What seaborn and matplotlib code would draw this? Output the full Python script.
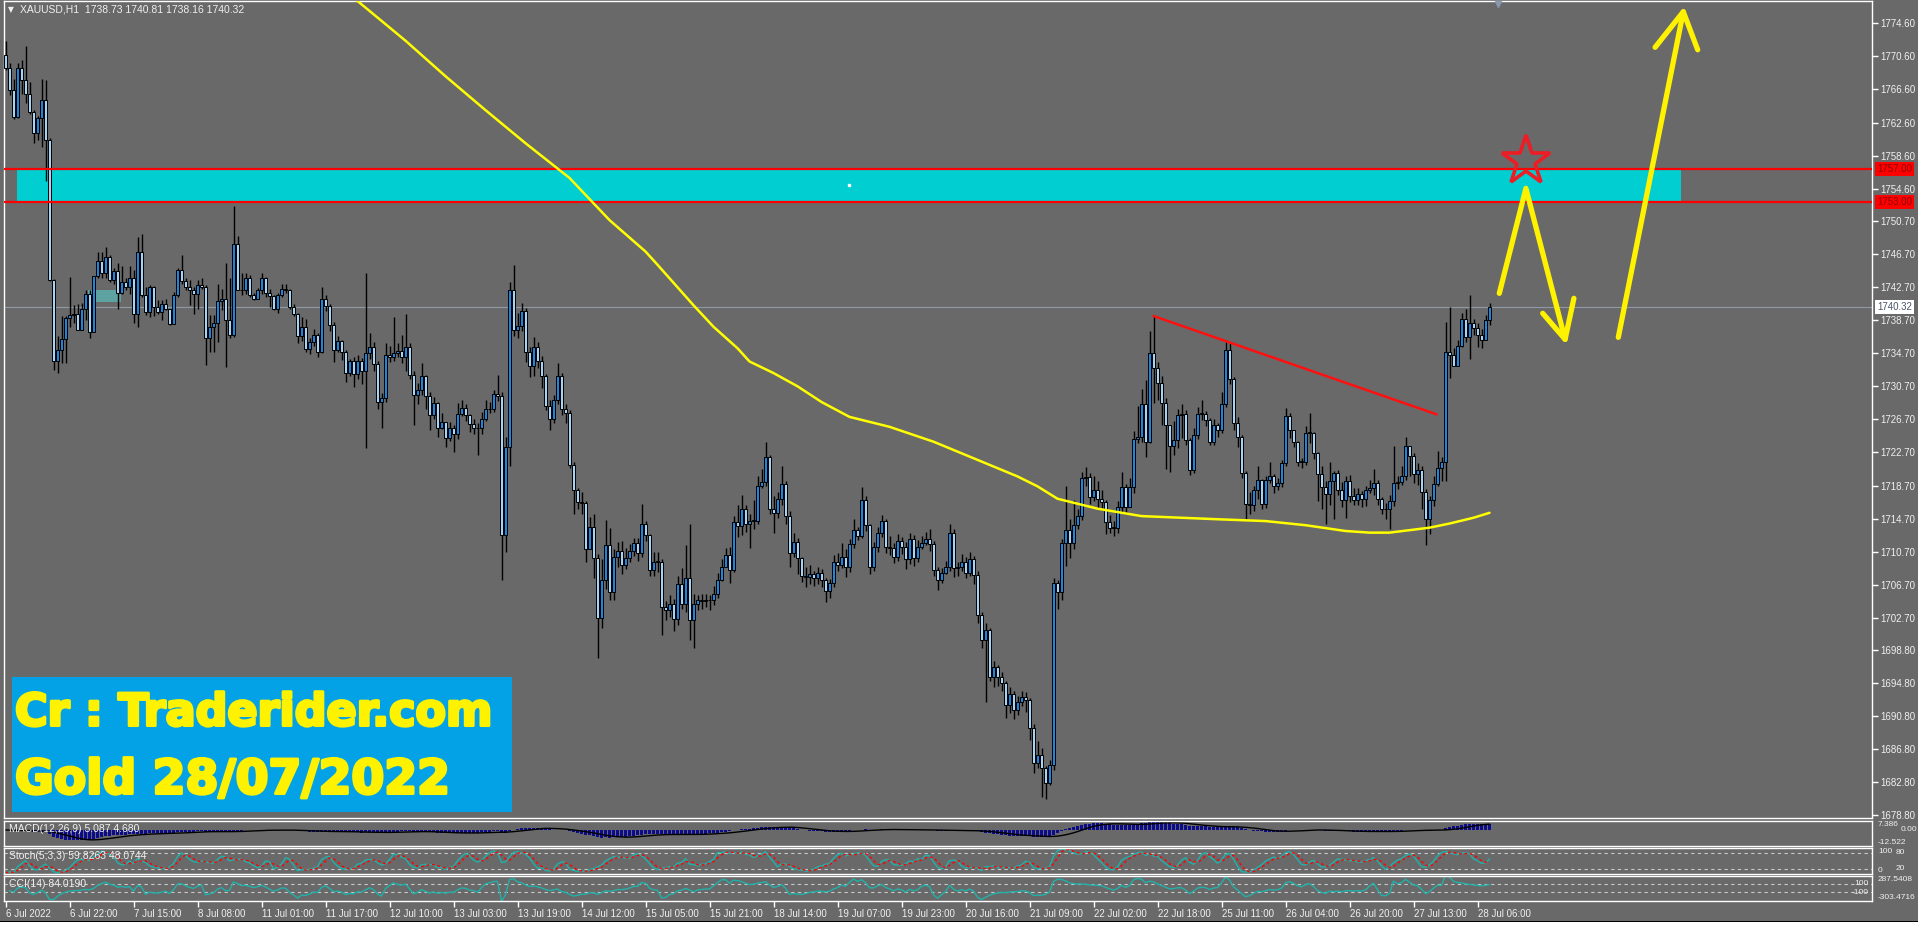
import numpy as np
import pandas as pd
import seaborn as sns
import matplotlib.pyplot as plt
import matplotlib.transforms as mtrans
import matplotlib.patheffects as pe
from matplotlib.patches import Rectangle

W, H = 1918, 925
BG = '#696969'

# XAUUSD H1, 6 Jul 2022 06:00 -> 28 Jul 2022 09:00 (23 bars per day)
first_open = 1770.8
closes = [
    # 6 Jul
    1769.2, 1766.5, 1763.3, 1769.2, 1767.8, 1766.1, 1763.9, 1761.3, 1763.2, 1765.3, 1760.5, 1743.6,
    1733.7, 1735.1, 1736.4, 1738.9, 1739.3, 1739.4,
    # 7 Jul
    1737.5, 1740.0, 1741.9, 1737.3, 1744.0, 1745.8, 1744.4, 1746.3, 1743.5, 1744.6, 1742.0, 1743.3,
    1742.7, 1743.8, 1739.5, 1747.0, 1741.7, 1739.7, 1742.7, 1740.3, 1739.7, 1740.7, 1740.1,
    # 8 Jul
    1738.2, 1741.7, 1744.8, 1743.4, 1742.7, 1742.4, 1741.9, 1743.0, 1742.7, 1736.5, 1737.9, 1738.4,
    1741.0, 1741.2, 1738.7, 1736.9, 1747.9, 1742.4, 1742.3, 1743.8, 1741.7, 1741.3, 1742.4,
    # 11 Jul
    1743.8, 1742.0, 1741.6, 1740.0, 1741.7, 1742.5, 1742.4, 1740.3, 1739.4, 1736.8, 1737.9, 1735.2,
    1736.1, 1736.9, 1734.9, 1741.2, 1740.4, 1738.1, 1735.1, 1736.2, 1734.9, 1732.3, 1733.7,
    # 12 Jul
    1732.2, 1733.7, 1732.6, 1734.7, 1735.4, 1733.4, 1728.8, 1729.3, 1734.5, 1734.3, 1734.7, 1735.0,
    1734.3, 1735.5, 1732.1, 1729.6, 1730.2, 1731.9, 1729.5, 1727.2, 1728.7, 1725.7, 1726.4,
    # 13 Jul
    1724.4, 1725.7, 1724.9, 1727.4, 1728.1, 1727.2, 1726.1, 1725.7, 1725.6, 1726.8, 1727.9, 1728.0,
    1729.8, 1729.5, 1712.7, 1723.3, 1742.3, 1737.5, 1738.0, 1739.8, 1734.8, 1733.1, 1735.4,
    # 14 Jul
    1733.7, 1731.9, 1728.3, 1726.8, 1729.1, 1731.9, 1728.0, 1727.5, 1721.2, 1718.2, 1716.7, 1716.6,
    1711.0, 1713.7, 1709.9, 1702.7, 1707.3, 1711.5, 1705.8, 1710.0, 1710.8, 1709.1, 1709.9,
    # 15 Jul
    1710.8, 1711.8, 1710.5, 1714.0, 1712.7, 1708.5, 1709.5, 1709.5, 1704.0, 1703.6, 1704.4, 1702.6,
    1706.8, 1704.4, 1707.5, 1702.4, 1704.4, 1704.8, 1704.7, 1704.9, 1704.8, 1705.6, 1707.3,
    # 18 Jul
    1708.9, 1710.3, 1708.5, 1714.3, 1713.8, 1715.9, 1714.1, 1714.4, 1714.4, 1718.6, 1719.1, 1722.1,
    1715.9, 1715.4, 1717.1, 1718.9, 1715.0, 1710.5, 1711.9, 1709.9, 1707.7, 1707.6, 1708.0,
    # 19 Jul
    1707.5, 1708.1, 1707.3, 1706.0, 1706.9, 1709.5, 1709.1, 1710.0, 1708.9, 1711.6, 1713.3, 1712.6,
    1716.9, 1713.9, 1708.9, 1711.3, 1712.9, 1714.4, 1711.3, 1711.2, 1710.1, 1712.0, 1711.3,
    # 20 Jul
    1709.8, 1712.2, 1709.9, 1711.3, 1711.8, 1712.2, 1711.6, 1708.5, 1707.3, 1708.1, 1708.9, 1712.9,
    1708.7, 1708.9, 1709.5, 1708.1, 1709.8, 1707.9, 1703.0, 1700.0, 1701.2, 1695.6, 1696.7,
    # 21 Jul
    1695.6, 1694.8, 1692.1, 1693.5, 1691.5, 1692.5, 1693.1, 1692.7, 1689.4, 1685.1, 1686.1, 1684.5,
    1682.7, 1684.9, 1706.9, 1705.8, 1711.7, 1713.3, 1711.7, 1713.9, 1715.0, 1719.6, 1719.7,
    # 22 Jul
    1717.3, 1718.2, 1717.1, 1716.7, 1714.3, 1713.6, 1713.6, 1716.1, 1718.5, 1716.1, 1718.5, 1724.3,
    1724.6, 1728.5, 1724.0, 1734.7, 1732.9, 1731.1, 1728.7, 1726.0, 1723.5, 1724.2, 1727.2,
    # 25 Jul
    1727.4, 1724.2, 1720.6, 1724.8, 1727.4, 1727.4, 1726.6, 1724.0, 1726.0, 1725.4, 1728.5, 1735.1,
    1731.6, 1726.2, 1724.6, 1720.2, 1716.5, 1716.3, 1718.2, 1719.4, 1716.5, 1719.4, 1719.8,
    # 26 Jul
    1718.6, 1719.0, 1721.4, 1727.1, 1725.4, 1724.0, 1721.6, 1721.6, 1725.1, 1725.1, 1722.6, 1720.1,
    1718.5, 1717.7, 1719.3, 1720.2, 1718.2, 1717.0, 1719.2, 1717.4, 1717.0, 1717.7, 1717.1,
    # 27 Jul
    1718.2, 1718.4, 1719.0, 1717.1, 1715.9, 1715.8, 1716.8, 1719.0, 1719.1, 1719.8, 1723.5, 1722.3,
    1720.1, 1720.6, 1717.9, 1714.7, 1717.0, 1718.9, 1720.8, 1721.6, 1734.9, 1734.5, 1733.1,
    # 28 Jul
    1735.6, 1738.8, 1736.7, 1738.3, 1737.8, 1736.9, 1736.3, 1738.73, 1740.32,
]
highs = [
    1772.5, 1769.8, 1767.9, 1769.8, 1770.2, 1771.9, 1767.5, 1764.1, 1763.4, 1767.9, 1767.8, 1760.7,
    1743.7, 1736.8, 1739.2, 1739.2, 1743.9, 1740.5,
    1740.7, 1740.8, 1742.3, 1742.3, 1744.0, 1747.0, 1747.0, 1747.6, 1746.6, 1745.0, 1745.6, 1745.2,
    1743.8, 1745.2, 1744.8, 1748.8, 1749.1, 1742.7, 1742.9, 1742.8, 1741.1, 1741.1, 1741.3,
    1739.9, 1742.1, 1745.0, 1746.6, 1743.8, 1743.6, 1742.7, 1743.6, 1743.8, 1742.9, 1739.3, 1739.3,
    1743.1, 1742.5, 1745.6, 1743.8, 1752.5, 1748.9, 1744.4, 1744.4, 1744.2, 1742.0, 1742.6,
    1744.4, 1743.9, 1742.5, 1741.8, 1742.0, 1743.1, 1743.1, 1742.5, 1740.6, 1739.6, 1739.1, 1738.8,
    1736.6, 1737.6, 1737.1, 1742.7, 1741.8, 1740.6, 1738.5, 1736.8, 1736.3, 1735.1, 1734.0,
    1734.2, 1734.5, 1734.1, 1744.4, 1737.1, 1736.1, 1733.8, 1729.9, 1735.9, 1735.6, 1739.1, 1735.9,
    1736.9, 1739.4, 1735.9, 1732.6, 1731.1, 1733.5, 1732.1, 1730.0, 1729.4, 1728.8, 1727.5,
    1726.3, 1726.4, 1726.0, 1728.7, 1729.0, 1728.5, 1727.4, 1726.7, 1726.2, 1727.6, 1729.0, 1728.8,
    1730.2, 1732.1, 1730.0, 1724.6, 1743.3, 1745.4, 1739.6, 1740.8, 1740.2, 1735.5, 1736.7,
    1736.1, 1734.4, 1732.2, 1729.0, 1729.6, 1733.5, 1732.3, 1728.6, 1727.8, 1721.6, 1718.4, 1717.9,
    1716.8, 1714.9, 1715.2, 1710.4, 1709.8, 1714.5, 1713.6, 1711.0, 1711.9, 1712.0, 1711.2,
    1711.6, 1712.4, 1712.3, 1716.5, 1714.4, 1712.8, 1710.6, 1710.7, 1709.8, 1704.7, 1705.4, 1705.0,
    1707.7, 1708.7, 1711.5, 1714.1, 1705.6, 1705.5, 1705.6, 1705.6, 1705.5, 1706.5, 1708.1,
    1709.8, 1711.1, 1711.3, 1715.0, 1716.3, 1717.6, 1716.4, 1715.3, 1717.0, 1719.8, 1720.7, 1724.0,
    1722.4, 1717.4, 1717.9, 1721.1, 1719.3, 1715.6, 1713.0, 1712.3, 1710.0, 1708.8, 1709.1,
    1708.4, 1708.9, 1708.6, 1707.5, 1707.4, 1710.3, 1710.5, 1711.8, 1711.0, 1712.2, 1714.6, 1713.7,
    1718.5, 1717.4, 1714.0, 1711.9, 1713.7, 1715.1, 1714.6, 1712.6, 1711.8, 1712.8, 1712.5,
    1711.9, 1713.0, 1712.7, 1712.1, 1712.6, 1713.1, 1713.5, 1712.0, 1708.9, 1708.7, 1709.6, 1714.0,
    1713.5, 1709.5, 1710.4, 1710.0, 1710.6, 1710.2, 1708.3, 1703.4, 1702.1, 1701.5, 1697.5,
    1697.0, 1696.2, 1695.0, 1694.3, 1693.9, 1693.2, 1693.8, 1693.7, 1693.0, 1689.8, 1687.8, 1687.0,
    1684.8, 1685.5, 1707.5, 1707.3, 1712.2, 1718.6, 1714.6, 1716.9, 1715.8, 1720.3, 1720.9,
    1720.2, 1719.9, 1719.2, 1718.2, 1717.0, 1715.1, 1714.4, 1716.8, 1720.3, 1718.9, 1719.6, 1725.3,
    1728.3, 1730.4, 1731.5, 1737.4, 1739.2, 1733.6, 1732.0, 1729.3, 1724.6, 1726.5, 1727.9,
    1728.5, 1727.8, 1724.5, 1725.6, 1728.2, 1729.0, 1727.7, 1726.9, 1726.8, 1726.2, 1730.0, 1736.1,
    1735.9, 1731.8, 1727.0, 1724.8, 1720.5, 1717.9, 1718.7, 1721.0, 1719.5, 1719.9, 1721.5,
    1720.1, 1719.6, 1721.8, 1728.1, 1727.5, 1725.4, 1724.1, 1722.0, 1725.9, 1727.5, 1725.2, 1722.8,
    1721.0, 1719.3, 1721.6, 1720.5, 1720.6, 1719.1, 1719.9, 1720.0, 1718.4, 1718.4, 1718.0,
    1718.7, 1719.4, 1720.7, 1719.4, 1717.3, 1716.6, 1717.6, 1723.5, 1719.8, 1721.0, 1724.6, 1723.2,
    1722.6, 1721.4, 1721.1, 1718.3, 1717.4, 1719.9, 1722.9, 1722.1, 1738.5, 1740.3, 1735.3,
    1736.3, 1739.6, 1740.0, 1741.8, 1738.8, 1738.3, 1737.6, 1739.3, 1740.81,
]
lows = [
    1769.0, 1765.9, 1763.0, 1763.1, 1766.1, 1765.0, 1763.6, 1760.1, 1760.5, 1759.6, 1755.5, 1743.4,
    1732.7, 1732.3, 1733.5, 1733.5, 1737.9, 1738.3,
    1737.5, 1739.1, 1738.7, 1736.5, 1737.3, 1743.8, 1743.8, 1743.8, 1743.3, 1743.1, 1740.0, 1741.9,
    1742.3, 1741.9, 1738.3, 1737.9, 1741.5, 1739.3, 1739.1, 1739.2, 1739.4, 1738.7, 1739.9,
    1738.1, 1739.5, 1741.5, 1743.1, 1742.3, 1740.5, 1739.5, 1740.1, 1742.5, 1733.3, 1734.9, 1734.8,
    1736.1, 1739.9, 1733.0, 1736.5, 1736.7, 1742.3, 1741.7, 1741.9, 1741.5, 1741.1, 1741.2,
    1741.9, 1741.5, 1740.3, 1739.9, 1739.6, 1741.5, 1742.0, 1740.1, 1739.2, 1735.9, 1736.2, 1734.9,
    1734.6, 1735.6, 1734.2, 1734.7, 1739.8, 1737.4, 1733.6, 1734.8, 1733.9, 1731.2, 1731.9,
    1730.6, 1731.6, 1731.0, 1723.2, 1734.0, 1732.6, 1727.9, 1725.6, 1728.8, 1733.6, 1733.8, 1734.2,
    1733.5, 1732.5, 1731.6, 1726.0, 1728.5, 1729.7, 1728.0, 1725.4, 1726.7, 1724.6, 1725.5,
    1723.4, 1724.1, 1722.8, 1724.3, 1727.1, 1726.5, 1725.2, 1724.9, 1722.4, 1724.9, 1726.5, 1727.5,
    1727.6, 1728.9, 1707.3, 1710.7, 1721.0, 1736.8, 1736.5, 1737.4, 1733.6, 1731.8, 1732.0,
    1732.9, 1730.5, 1727.8, 1725.4, 1726.2, 1728.6, 1727.2, 1726.3, 1720.8, 1715.2, 1715.9, 1715.2,
    1709.4, 1711.7, 1707.5, 1697.8, 1701.5, 1706.2, 1704.9, 1704.8, 1708.9, 1708.0, 1708.6,
    1709.4, 1710.2, 1709.6, 1710.0, 1712.0, 1707.8, 1707.7, 1708.2, 1700.6, 1702.4, 1702.8, 1701.1,
    1701.8, 1703.8, 1703.4, 1700.0, 1699.1, 1703.6, 1703.8, 1704.0, 1703.7, 1704.2, 1705.1,
    1707.1, 1709.3, 1706.9, 1708.2, 1712.5, 1712.7, 1713.1, 1711.2, 1713.5, 1714.1, 1718.4, 1718.7,
    1715.2, 1713.0, 1714.8, 1716.3, 1714.1, 1708.9, 1710.1, 1708.0, 1707.0, 1706.4, 1706.8,
    1706.6, 1706.8, 1706.4, 1704.6, 1705.1, 1706.4, 1708.3, 1708.7, 1707.6, 1708.2, 1711.1, 1712.1,
    1712.3, 1713.2, 1708.0, 1708.3, 1710.6, 1712.5, 1710.5, 1710.3, 1709.3, 1709.6, 1710.4,
    1708.6, 1709.2, 1709.0, 1709.4, 1711.0, 1711.5, 1710.8, 1707.7, 1706.1, 1706.9, 1708.0, 1708.3,
    1707.6, 1707.8, 1708.4, 1707.5, 1707.7, 1706.8, 1702.1, 1699.0, 1692.5, 1695.0, 1694.3,
    1694.5, 1693.8, 1690.6, 1691.2, 1690.5, 1691.0, 1692.0, 1691.3, 1687.9, 1683.9, 1684.5, 1681.0,
    1680.8, 1682.5, 1684.3, 1703.8, 1704.8, 1709.0, 1709.9, 1711.0, 1713.4, 1714.5, 1718.6,
    1716.5, 1716.8, 1716.0, 1715.7, 1712.8, 1713.0, 1712.6, 1713.0, 1715.5, 1715.2, 1716.9, 1717.8,
    1723.8, 1724.0, 1722.2, 1723.9, 1728.7, 1729.0, 1726.0, 1720.7, 1720.3, 1722.4, 1723.2,
    1724.5, 1723.6, 1720.0, 1720.2, 1724.3, 1726.6, 1725.9, 1723.6, 1723.6, 1724.6, 1725.1, 1728.2,
    1731.0, 1725.4, 1723.3, 1719.6, 1714.6, 1715.3, 1715.6, 1717.1, 1715.8, 1716.0, 1719.0,
    1717.8, 1718.2, 1718.5, 1721.0, 1724.5, 1723.3, 1721.0, 1720.8, 1721.2, 1723.9, 1721.9, 1716.8,
    1715.9, 1714.0, 1716.4, 1714.6, 1717.5, 1716.1, 1714.8, 1716.7, 1716.3, 1716.4, 1716.1,
    1716.2, 1717.8, 1717.5, 1716.3, 1715.2, 1714.7, 1713.5, 1716.2, 1718.3, 1718.8, 1719.4, 1719.9,
    1719.0, 1718.8, 1715.8, 1711.5, 1712.8, 1716.2, 1718.6, 1719.2, 1719.2, 1731.7, 1733.9,
    1734.1, 1735.5, 1736.0, 1734.0, 1736.9, 1735.5, 1735.3, 1736.4, 1738.16,
]

date_labels = ['6 Jul 2022', '6 Jul 22:00', '7 Jul 15:00', '8 Jul 08:00', '11 Jul 01:00', '11 Jul 17:00',
               '12 Jul 10:00', '13 Jul 03:00', '13 Jul 19:00', '14 Jul 12:00', '15 Jul 05:00', '15 Jul 21:00',
               '18 Jul 14:00', '19 Jul 07:00', '19 Jul 23:00', '20 Jul 16:00', '21 Jul 09:00', '22 Jul 02:00',
               '22 Jul 18:00', '25 Jul 11:00', '26 Jul 04:00', '26 Jul 20:00', '27 Jul 13:00', '28 Jul 06:00']
bars_per_label = 16
price_ticks = [1774.60, 1770.60, 1766.60, 1762.60, 1758.60, 1754.60, 1750.70, 1746.70, 1742.70, 1738.70,
               1734.70, 1730.70, 1726.70, 1722.70, 1718.70, 1714.70, 1710.70, 1706.70, 1702.70, 1698.80,
               1694.80, 1690.80, 1686.80, 1682.80, 1678.80]

# moving average (yellow): bar index / price
ma_bar = [86, 100, 110, 120, 130, 141, 151, 160, 163, 172, 177, 183, 186, 192, 198, 204, 211, 221, 232,
          242, 253, 258, 263, 273, 284, 294, 304, 315, 325, 335, 341, 346, 356, 361, 367, 371]
ma_val = [1778.1, 1772.5, 1768.2, 1764.1, 1760.1, 1755.9, 1750.8, 1747.0, 1745.4, 1740.5, 1737.9, 1735.3,
          1733.7, 1732.3, 1730.7, 1728.8, 1727.0, 1725.8, 1724.0, 1722.0, 1719.8, 1718.6, 1717.1, 1715.9,
          1715.0, 1714.8, 1714.6, 1714.4, 1713.9, 1713.2, 1713.0, 1713.0, 1713.6, 1714.1, 1714.8, 1715.4]

# drawn objects (bar index, price)
zone_bars, zone_prices = [2.8, 418.9], [1753.0, 1757.0]
box_bars, box_prices = [20.6, 28.9], [1740.9, 1742.3]
trend_bars, trend_prices = [287, 357.8], [1739.2, 1727.3]
arrow_a_bars, arrow_a_prices = [373.45, 380.1, 389.9], [1741.94, 1754.64, 1736.38]
head_a_bars, head_a_prices = [384.3, 389.9, 392.1], [1739.53, 1736.38, 1741.34]
arrow_b_bars, arrow_b_prices = [403.2, 419.45], [1736.62, 1776.0]
head_b_bars, head_b_prices = [412.4, 419.45, 423.05], [1771.7, 1776.0, 1771.4]
star_bar, star_price = 380.1, 1757.9
last_price = 1740.32

sns.set_style('dark')
plt.rcParams['font.family'] = ['Liberation Sans', 'DejaVu Sans']

c = np.array(closes)
o = np.r_[first_open, c[:-1]]
h = np.maximum(np.array(highs), np.maximum(o, c))
l = np.minimum(np.array(lows), np.minimum(o, c))
xs = np.arange(len(c))

fig = plt.figure(figsize=(W / 100, H / 100), dpi=100, facecolor=BG)


def panel(top, bottom):
    a = fig.add_axes([4 / W, 1 - bottom / H, 1868 / W, (bottom - top) / H])
    a.set_facecolor(BG)
    for s in a.spines.values():
        s.set_color('white')
        s.set_linewidth(1.0)
    a.set_xlim(-0.375, 466.625)
    a.grid(False)
    a.tick_params(axis='both', bottom=False, labelbottom=False, left=False, labelleft=False)
    return a


def side_label(a, val, txt, va='center', dx=6, ha='left'):
    tr = mtrans.blended_transform_factory(a.transAxes, a.transData)
    a.annotate(txt, xy=(1, val), xycoords=tr, xytext=(dx, 0), textcoords='offset pixels',
               va=va, ha=ha, color='#f0f0f0', fontsize=6, annotation_clip=False)


ax = panel(1, 818.3)
ax.set_ylim(1678.45, 1777.30)

# zone, markers
ax.add_patch(Rectangle((zone_bars[0], zone_prices[0]), zone_bars[1] - zone_bars[0],
                       zone_prices[1] - zone_prices[0], facecolor='#00ced1', edgecolor='none', zorder=1))
ax.add_patch(Rectangle((box_bars[0], box_prices[0]), box_bars[1] - box_bars[0],
                       box_prices[1] - box_prices[0], facecolor='#5fa2a2', edgecolor='none', zorder=1.5))
ax.plot([np.mean(zone_bars)], [np.mean(zone_prices)], marker='s', ms=2, color='white', zorder=2)
ax.axhline(last_price, color='#8e9aa8', lw=0.8, zorder=1.2)

# candles
bull = c >= o
ax.vlines(xs, l, h, colors='black', linewidth=1.0, zorder=3)
ax.bar(xs, np.maximum(np.abs(c - o), 0.08), bottom=np.minimum(o, c), width=0.8,
       color=np.where(bull, '#1f84dd', '#a6d3f6'), edgecolor='black', linewidth=0.7, zorder=4)

for p in zone_prices:
    ax.axhline(p, color='#ff0000', lw=1.6, zorder=5)

sns.lineplot(x=ma_bar, y=ma_val, ax=ax, color='#ffff00', linewidth=1.8, zorder=6, sort=False)
ax.plot(trend_bars, trend_prices, color='#ff1010', lw=1.8, zorder=6)
for bx, py in [(arrow_a_bars, arrow_a_prices), (head_a_bars, head_a_prices),
               (arrow_b_bars, arrow_b_prices), (head_b_bars, head_b_prices)]:
    ax.plot(bx, py, color='#fff200', lw=3.8, solid_capstyle='round', solid_joinstyle='round', zorder=7)
ax.plot([star_bar], [star_price], marker='*', ms=37, mfc='none', mec='#ee1c24', mew=2.6, zorder=8)
ax.plot([373.0], [1776.9], marker='v', ms=5, color='#8797ad', clip_on=False, zorder=8)
ax.set_xlabel('')
ax.set_ylabel('')

ax.yaxis.tick_right()
ax.set_yticks(price_ticks)
ax.set_yticklabels([f'{p:.2f}' for p in price_ticks])
ax.tick_params(axis='y', right=True, labelright=True, direction='out', length=4, width=1,
               color='white', labelcolor='#f0f0f0', labelsize=7, pad=2)

tr = mtrans.blended_transform_factory(ax.transAxes, ax.transData)
for p in zone_prices:
    ax.annotate(f'{p:.2f}', xy=(1, p), xycoords=tr, xytext=(5, 0), textcoords='offset pixels',
                va='center', ha='left', color='#8a0000', fontsize=7, annotation_clip=False,
                bbox=dict(boxstyle='square,pad=0.18', fc='#ff0000', ec='none'))
ax.annotate(f'{last_price:.2f}', xy=(1, last_price), xycoords=tr, xytext=(5, 0), textcoords='offset pixels',
            va='center', ha='left', color='#4a5466', fontsize=7, annotation_clip=False,
            bbox=dict(boxstyle='square,pad=0.18', fc='white', ec='none'))

# indicators from the candles
cs, hs, ls = pd.Series(c), pd.Series(h), pd.Series(l)
macd = cs.ewm(span=12, adjust=False).mean() - cs.ewm(span=26, adjust=False).mean()
macd_sig = macd.rolling(9, min_periods=1).mean()
lo5 = ls.rolling(5, min_periods=1).min()
hi5 = hs.rolling(5, min_periods=1).max()
stoch_k = 100 * (cs - lo5).rolling(3, min_periods=1).sum() / (hi5 - lo5).rolling(3, min_periods=1).sum()
stoch_d = stoch_k.rolling(3, min_periods=1).mean()
tp = (hs + ls + cs) / 3
tp_md = tp.rolling(14, min_periods=1).apply(lambda w: np.abs(w - w.mean()).mean(), raw=True)
cci = (tp - tp.rolling(14, min_periods=1).mean()) / (0.015 * tp_md.replace(0, np.nan))

lvl = dict(color='#c8c8c8', lw=0.8, ls=(0, (3, 3)))
hdr = dict(xy=(0, 1), xycoords='axes fraction', textcoords='offset pixels', va='top', ha='left',
           color='#f0f0f0', fontsize=7.5)

ax_macd = panel(820.7, 845.7)
ax_macd.set_ylim(-12.522, 7.386)
ax_macd.bar(xs, macd, width=0.8, color='#0b0b8c', linewidth=0)
sns.lineplot(x=xs, y=macd_sig.values, ax=ax_macd, color='black', linewidth=1.0)
ax_macd.annotate('MACD(12,26,9) 5.087 4.680', xytext=(5, -3), **hdr)
side_label(ax_macd, 7.386, '7.386', 'top')
side_label(ax_macd, 0, '0.00', dx=29)
side_label(ax_macd, -12.522, '-12.522', 'bottom')

ax_st = panel(847.7, 874)
ax_st.set_ylim(0, 100)
for v in (80, 20):
    ax_st.axhline(v, **lvl)
sns.lineplot(x=xs, y=stoch_k.values, ax=ax_st, color='#20b2aa', linewidth=1.0)
ax_st.plot(xs, stoch_d.values, color='#ff0000', lw=1.0, ls=(0, (2, 2)))
ax_st.annotate('Stoch(5,3,3) 59.8263 48.0744', xytext=(5, -3), **hdr)
side_label(ax_st, 100, '100', 'top')
side_label(ax_st, 80, '80', dx=24)
side_label(ax_st, 20, '20', dx=24)
side_label(ax_st, 0, '0', 'bottom')

ax_cci = panel(876, 900.7)
ax_cci.set_ylim(-303.4716, 287.5408)
for v in (100, -100):
    ax_cci.axhline(v, **lvl)
sns.lineplot(x=xs, y=cci.values, ax=ax_cci, color='#20b2aa', linewidth=1.0)
ax_cci.annotate('CCI(14) 84.0190', xytext=(5, -3), **hdr)
side_label(ax_cci, 287.5408, '287.5408', 'top')
side_label(ax_cci, 100, '100', dx=-3, ha='right')
side_label(ax_cci, -100, '-100', dx=-3, ha='right')
side_label(ax_cci, -303.4716, '-303.4716', 'bottom')
ax_cci.set_xticks(np.arange(len(date_labels)) * bars_per_label)
ax_cci.set_xticklabels(date_labels, ha='left')
ax_cci.tick_params(axis='x', bottom=True, labelbottom=True, direction='out', length=4, width=1,
                   color='white', labelcolor='#f0f0f0', labelsize=7, pad=2)

for a in (ax_macd, ax_st, ax_cci):
    a.set_xlabel('')
    a.set_ylabel('')
    a.set_xlim(-0.375, 466.625)

# header and logo
fig.text(8 / W, 1 - 10 / H, '\u25bc', color='#f0f0f0', fontsize=5.5, va='center',
         family=['DejaVu Sans'])
fig.text(20 / W, 1 - 10 / H, 'XAUUSD,H1  1738.73 1740.81 1738.16 1740.32', color='#f0f0f0',
         fontsize=7.5, va='center')
fig.patches.append(Rectangle((12 / W, 1 - 812 / H), 500 / W, 135 / H, transform=fig.transFigure,
                             facecolor='#03a2e6', edgecolor='none', zorder=5))
for txt, yc, fs in [('Cr : Traderider.com', 713, 32), ('Gold 28/07/2022', 781, 34)]:
    fig.text(15 / W, 1 - yc / H, txt, color='#fff200', fontsize=fs, fontweight='bold', va='center',
             family=['DejaVu Sans'], zorder=6,
             path_effects=[pe.withStroke(linewidth=2.2, foreground='#fff200')])

# bottom frame
fig.patches.append(Rectangle((0, 0), 1, 3 / H, transform=fig.transFigure, facecolor='white',
                             edgecolor='none'))
fig.patches.append(Rectangle((0, 3 / H), 1, 1.5 / H, transform=fig.transFigure, facecolor='black',
                             edgecolor='none'))

fig.savefig('out.png', dpi=100, facecolor=BG)
